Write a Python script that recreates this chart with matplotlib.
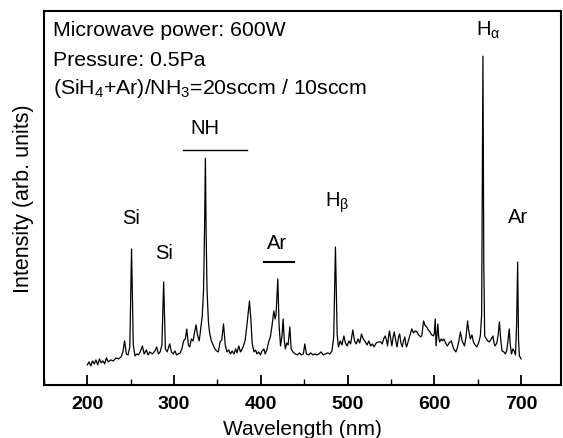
import matplotlib
matplotlib.use('Agg')
import numpy as np
import matplotlib.pyplot as plt
from matplotlib.ticker import MultipleLocator

# spectrum (wavelength nm, intensity arb. units)
wavelength = [
    200, 202, 204, 206, 208, 210, 212, 214, 216, 218, 220, 222, 224, 227, 230, 233,
    236, 239, 241, 243, 245, 247, 249, 251, 253, 255, 257, 259, 261, 263.5, 265.5,
    268, 270, 272, 275, 278, 280, 282, 284, 286, 288, 290, 292, 295, 297, 299, 301,
    303, 305, 307, 309, 311, 313, 314.6, 316.5, 318, 320, 322, 323.5, 325.4, 327,
    329, 331, 332.5, 334, 335.2, 336.1, 337, 338, 339.6, 341, 343, 345, 347, 349,
    351, 353, 355, 357, 359, 361, 363, 365, 367, 369, 371, 372.5, 374.6, 376.5, 378,
    380, 382, 384, 386.9, 388.5, 390, 392, 394, 395.5, 397.5, 399.5, 401.5, 403.5,
    405, 407, 409, 411, 413, 415, 416.5, 417.5, 419.6, 421, 422.7, 424.5, 425.7, 427,
    428.3, 430, 431.5, 433.4, 435, 437, 439.5, 442, 444.5, 446.5, 449, 450.7, 452.5,
    455, 457.5, 460, 462, 464.5, 467, 469.5, 472, 474.5, 477, 479.5, 482, 484, 486,
    488, 489.5, 491.6, 493.5, 495.7, 497.5, 499.5, 501.5, 503.5, 506, 508, 510, 512,
    514, 516, 518, 520.6, 522.5, 524.5, 526.5, 528.5, 530.5, 533, 536, 538, 540,
    541.5, 543.4, 545, 546, 547.5, 548.3, 549.5, 551, 552.5, 553.8, 555.5, 557,
    558.5, 560, 561.5, 563, 564.5, 566, 567, 568, 570, 572, 574, 576, 578, 580, 582,
    584, 585.5, 587.6, 589, 591, 593, 595, 597, 599, 600, 601, 602, 603, 604, 605,
    606, 608, 609.5, 611, 613, 615, 617, 619.6, 621.5, 623, 624.8, 626.5, 628.5, 630,
    632, 634.7, 636.5, 638.3, 639.5, 641.5, 643.3, 645, 647, 649, 651, 653, 654.5,
    656, 657, 658, 660, 661.5, 663, 665, 667.5, 669, 670, 672, 673.5, 675, 676.5,
    678, 680, 682, 683.5, 685, 686.3, 687.5, 689, 690.5, 692, 693.5, 694.8, 696, 697,
    698, 700]
intensity = [
    20, 23, 19, 24, 21, 25, 20, 26, 22, 24, 21, 27, 23, 25, 24, 27,
    26, 28, 33, 44, 31, 30, 38, 136, 40, 29, 31, 30, 33, 39, 31,
    35, 30, 33, 31, 34, 38, 31, 33, 40, 103, 36, 33, 41, 33, 31, 34,
    30, 31, 32, 36, 44, 46, 56, 40, 38, 46, 44, 52, 60, 50,
    44, 58, 69, 95, 160, 227, 150, 95, 63, 52, 44, 40, 36, 34,
    33, 43, 45, 61, 40, 33, 35, 31, 34, 31, 36, 32, 39, 33, 35,
    39, 45, 60, 84, 66, 42, 33, 35, 31, 33, 30, 34, 36,
    31, 35, 43, 48, 60, 74, 66, 70, 106, 60, 39, 50, 66, 45,
    36, 42, 40, 58, 36, 33, 31, 30, 32, 30, 31, 41, 31,
    30, 32, 30, 31, 30, 31, 33, 30, 31, 32, 31, 34, 48, 138,
    50, 38, 44, 40, 49, 42, 39, 44, 41, 55, 44, 41, 46,
    42, 51, 46, 43, 40, 44, 39, 41, 38, 42, 43, 43, 41,
    46, 49, 44, 39, 50, 54, 47, 39, 48, 53, 44, 38,
    47, 51, 42, 38, 44, 48, 41, 38, 44, 50, 56, 52, 54, 53, 50,
    48, 49, 64, 60, 58, 55, 53, 50, 49, 52, 66, 39, 50, 61, 48,
    43, 46, 44, 46, 42, 39, 42, 44, 38, 35, 33, 37, 45, 53,
    44, 39, 48, 64, 55, 46, 50, 43, 40, 38, 42, 49, 70,
    329, 120, 49, 46, 44, 43, 45, 49, 41, 39, 42, 50, 63, 45,
    34, 33, 31, 35, 45, 56, 40, 31, 36, 34, 30, 60, 123, 45,
    29, 26]

plt.rcParams['font.family'] = ['Liberation Sans', 'DejaVu Sans']
plt.rcParams['mathtext.fontset'] = 'custom'
plt.rcParams['mathtext.rm'] = 'Liberation Sans'
plt.rcParams['mathtext.it'] = 'Liberation Sans:italic'

fig = plt.figure(figsize=(5.63, 4.39), dpi=100)
ax = fig.add_axes([0.078, 0.121, 0.9185, 0.851])

ax.plot(wavelength, intensity, color='black', linewidth=0.9)

ax.set_xlim(150, 746)
ax.set_ylim(0, 374)
ax.xaxis.set_major_locator(MultipleLocator(100))
ax.xaxis.set_minor_locator(MultipleLocator(50))
ax.tick_params(axis='x', which='major', direction='in', length=7, width=1.3, pad=7)
ax.tick_params(axis='x', which='minor', direction='in', length=4, width=1.0)
ax.set_yticks([])
for lbl in ax.get_xticklabels():
    lbl.set_fontweight('bold')
    lbl.set_fontsize(14)
for s in ax.spines.values():
    s.set_linewidth(1.5)

ax.set_xlabel('Wavelength (nm)', fontsize=15, labelpad=5)
ax.set_ylabel('Intensity (arb. units)', fontsize=15.5, labelpad=7)

# conditions text (upper left)
fs = 15.3
ax.text(0.018, 0.95, 'Microwave power: 600W', transform=ax.transAxes, fontsize=fs, va='center')
ax.text(0.018, 0.872, 'Pressure: 0.5Pa', transform=ax.transAxes, fontsize=fs, va='center')
ax.text(0.018, 0.795, r'(SiH$_4$+Ar)/NH$_3$=20sccm / 10sccm', transform=ax.transAxes,
        fontsize=fs, va='center')

# peak labels
fp = 14.5
ax.text(251, 168, 'Si', fontsize=fp, ha='center', va='center')
ax.text(288, 133, 'Si', fontsize=fp, ha='center', va='center')
ax.text(336, 258, 'NH', fontsize=fp, ha='center', va='center')
ax.plot([310, 384], [235, 235], color='black', linewidth=1.0)
ax.text(419, 143, 'Ar', fontsize=fp, ha='center', va='center')
ax.plot([404, 438], [123, 123], color='black', linewidth=1.5)
ax.text(488, 183, r'H$_\mathrm{\beta}$', fontsize=fp, ha='center', va='center')
ax.text(662, 356, r'H$_\mathrm{\alpha}$', fontsize=fp, ha='center', va='center')
ax.text(697, 169, 'Ar', fontsize=fp, ha='center', va='center')

plt.savefig('out.png', dpi=100)
